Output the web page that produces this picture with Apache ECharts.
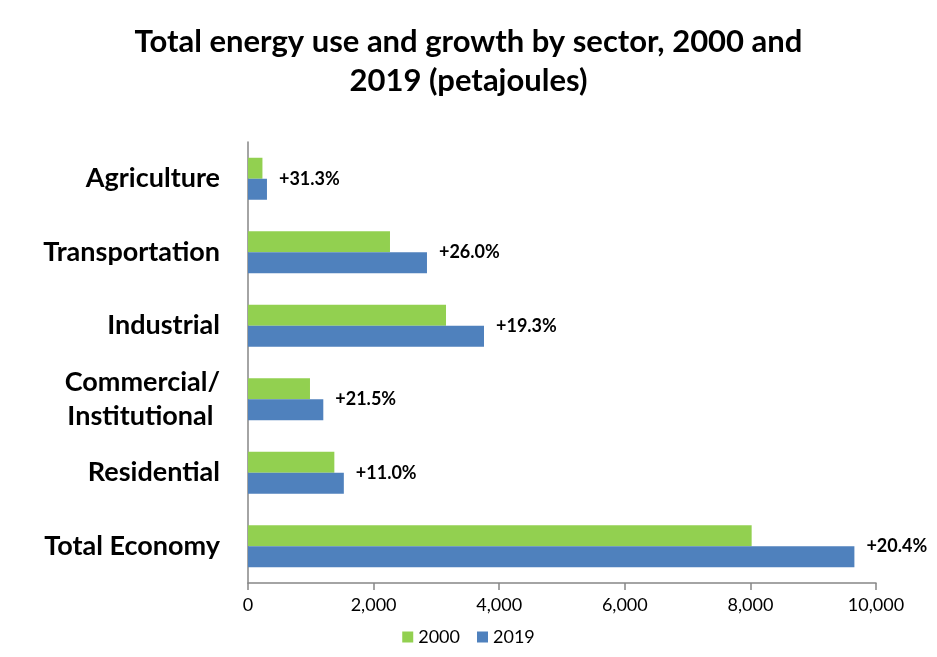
<!DOCTYPE html>
<html><head><meta charset="utf-8">
<script src="https://cdn.jsdelivr.net/npm/echarts@6/dist/echarts.min.js"></script>
<style>html,body{margin:0;padding:0;background:#fff}#c{width:937px;height:657px}</style>
</head><body><div id="c"></div>
<script>
const categories = ['Agriculture','Transportation','Industrial','Commercial/\nInstitutional ','Residential','Total Economy'];
const values2000 = [230, 2261, 3153, 987, 1375, 8020];
const values2019 = [302, 2850, 3758, 1199, 1526, 9656];
const growthLabels = ['+31.3%','+26.0%','+19.3%','+21.5%','+11.0%','+20.4%'];
const xTicks = [0, 2000, 4000, 6000, 8000, 10000];

const F = 'Lato, "Open Sans", sans-serif';
const chart = echarts.init(document.getElementById('c'));
chart.setOption({
  animation:false,
  title:{text:'Total energy use and growth by sector, 2000 and\n2019 (petajoules)',left:'center',top:17,
    textStyle:{fontFamily:F,fontWeight:'bold',fontSize:31,color:'#000',lineHeight:39}},
  legend:{data:['2000','2019'],bottom:6,left:'center',itemWidth:11,itemHeight:11,itemGap:17,
    icon:'rect',textStyle:{fontFamily:F,fontSize:18,color:'#000'}},
  grid:{left:248,right:61,top:142,bottom:74,containLabel:false},
  xAxis:{type:'value',min:xTicks[0],max:xTicks[xTicks.length-1],interval:2000,
    axisLine:{show:true,lineStyle:{color:'#868686',width:1.5}},
    axisTick:{show:true,length:7,lineStyle:{color:'#868686',width:1.5}},
    splitLine:{show:false},
    axisLabel:{fontFamily:F,fontSize:18,color:'#000',margin:13,
      formatter:v=>v.toLocaleString('en-US')}},
  yAxis:{type:'category',data:categories,inverse:true,
    axisLine:{show:true,lineStyle:{color:'#868686',width:1.5}},
    axisTick:{show:false},
    axisLabel:{fontFamily:F,fontWeight:'bold',fontSize:27,color:'#000',margin:28,lineHeight:34,align:'right'}},
  series:[
    {name:'2000',type:'bar',data:values2000,barWidth:21,barGap:'0%',itemStyle:{color:'#92D050'}},
    {name:'2019',type:'bar',data:values2019,barWidth:21,barGap:'0%',itemStyle:{color:'#4F81BD'},
      label:{show:true,position:'right',distance:12,offset:[0,-10.5],
        formatter:p=>growthLabels[p.dataIndex],
        fontFamily:F,fontWeight:'bold',fontSize:18,color:'#000'}}
  ]
});
</script></body></html>
